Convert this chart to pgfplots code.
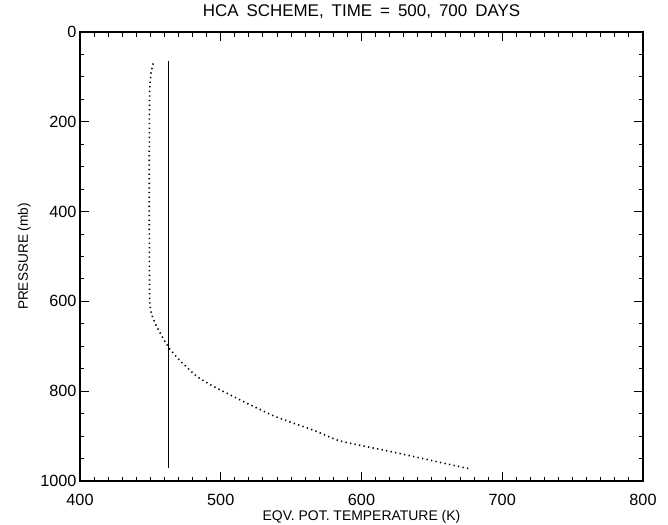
\documentclass[border=0pt]{standalone}
\usepackage{fontspec}
\setmainfont{Liberation Sans}
\usepackage{pgfplots}
\pgfplotsset{compat=1.18}
\begin{document}
\begin{tikzpicture}
\useasboundingbox (-80bp,-44bp) rectangle (588bp,481bp);
\begin{axis}[
  at={(0,0)}, anchor=south west,
  scale only axis,
  width=563bp, height=449bp,
  xmin=400, xmax=800,
  ymin=0, ymax=1000,
  y dir=reverse,
  xtick={400,500,600,700,800},
  ytick={0,200,400,600,800,1000},
  minor x tick num=9,
  minor y tick num=3,
  tick align=inside,
  major tick length=9bp,
  minor tick length=4.5bp,
  axis line style={line width=1.5bp},
  every tick/.style={line width=1bp, black},
  /pgf/number format/assume math mode=true,
  /pgf/number format/1000 sep={},
  tick label style={font=\fontsize{16.3}{18}\selectfont},
  xticklabel style={anchor=base, yshift=-24.5bp, inner sep=0pt},
  title={\spaceskip=8bp HCA SCHEME, TIME = 500, 700 DAYS},
  title style={at={(axis description cs:0.5,1.0223)}, anchor=base, font=\fontsize{17}{20}\selectfont, inner sep=0pt},
  xlabel={EQV. POT. TEMPERATURE (K)},
  xlabel style={at={(axis description cs:0.5,-0.088)}, anchor=base, font=\fontsize{14}{16}\selectfont, inner sep=0pt},
  ylabel={PRESSURE (mb)},
  ylabel style={at={(axis description cs:-0.0924,0.5)}, anchor=base, font=\fontsize{13.7}{16}\selectfont, inner sep=0pt},
]
\addplot[black, line width=1.4bp] coordinates {(463,65) (463,970)};
\addplot[black, line width=1.6bp, dash pattern=on 1.3bp off 3.3bp, smooth, tension=0.3] coordinates {
(452,70) (450.5,90) (449.5,130) (449.3,200) (449.2,300) (449.2,400) (449.3,500) (449.5,600)
(451,630) (454.5,656) (459,682) (464,707) (472,735) (483,767) (494,788) (506.6,808)
(522,832) (540,858) (566,887) (585,911) (620,934) (677,973)};
\end{axis}
\end{tikzpicture}
\end{document}
